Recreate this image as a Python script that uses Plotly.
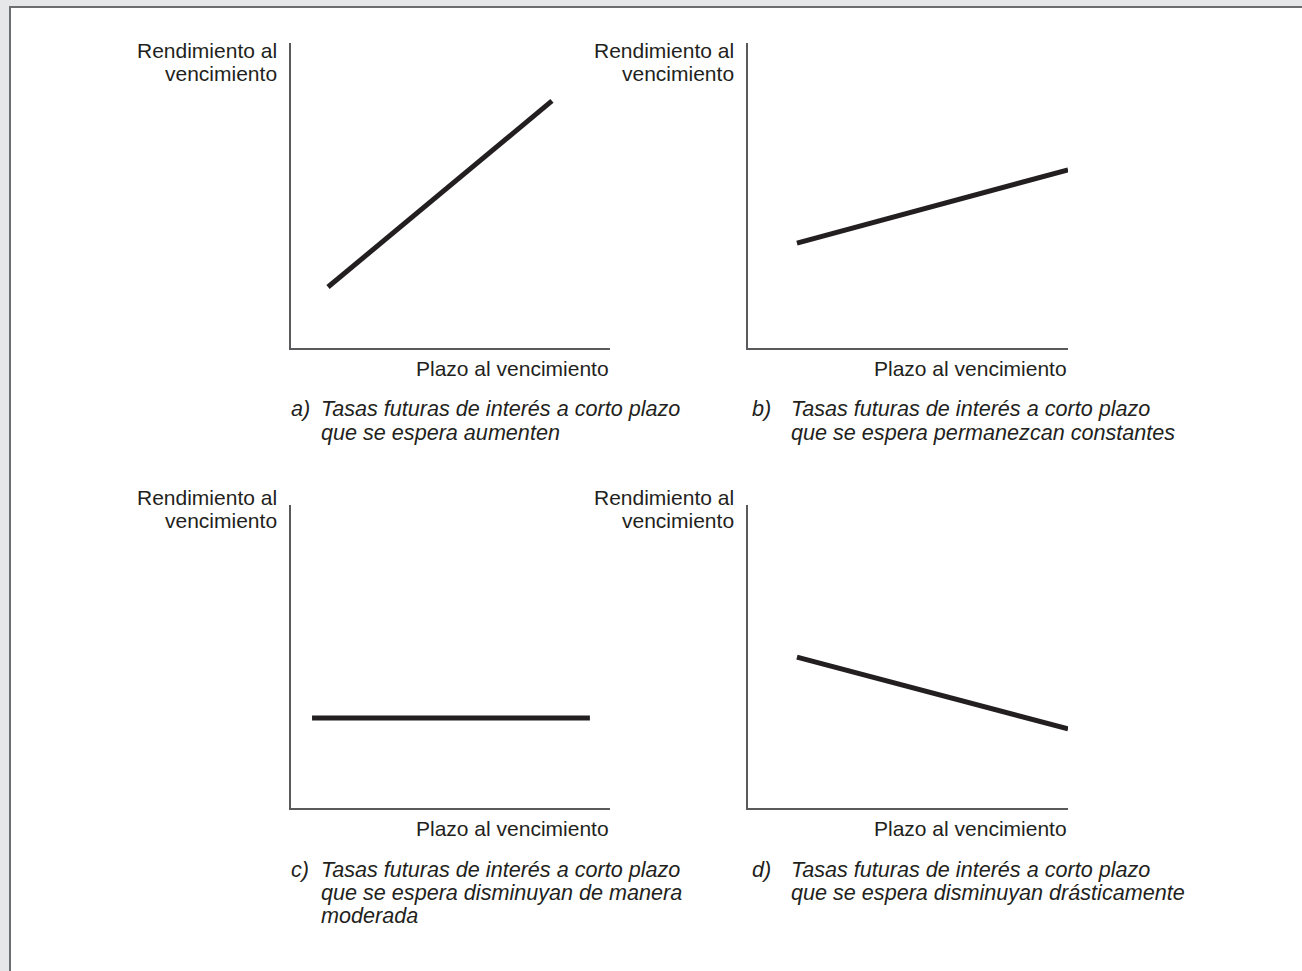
import plotly.graph_objects as go

W, H = 1302, 971

# data (arbitrary units, axes run 0..10)
plazo_a = [1.16, 8.18]
rend_a = [2.0, 8.1]
plazo_b = [1.53, 10.0]
rend_b = [3.44, 5.84]
plazo_c = [0.66, 9.37]
rend_c = [2.97, 2.97]
plazo_d = [1.53, 10.0]
rend_d = [4.98, 2.61]

y_label = ["Rendimiento al", "vencimiento"]
x_label = "Plazo al vencimiento"
letters = ["a)", "b)", "c)", "d)"]
captions = [
    ["Tasas futuras de interés a corto plazo", "que se espera aumenten"],
    ["Tasas futuras de interés a corto plazo", "que se espera permanezcan constantes"],
    ["Tasas futuras de interés a corto plazo", "que se espera disminuyan de manera", "moderada"],
    ["Tasas futuras de interés a corto plazo", "que se espera disminuyan drásticamente"],
]

FONT = "Liberation Sans, Arial, sans-serif"
INK = "#231f20"


def px(x):
    return x / W


def py(y):
    return 1 - y / H


# panel boxes in pixels: left, right, bottom, top
boxes = [
    (291, 610, 348, 43),
    (748, 1068, 348, 43),
    (291, 610, 808, 505),
    (748, 1068, 808, 505),
]
series = [(plazo_a, rend_a), (plazo_b, rend_b), (plazo_c, rend_c), (plazo_d, rend_d)]

fig = go.Figure()
layout = {}
annotations = []
for i, ((l, r, b, t), (xs, ys)) in enumerate(zip(boxes, series)):
    n = "" if i == 0 else str(i + 1)
    fig.add_trace(go.Scatter(x=xs, y=ys, mode="lines", xaxis="x" + n, yaxis="y" + n,
                             line=dict(color=INK, width=5), showlegend=False, hoverinfo="skip"))
    axcommon = dict(range=[0, 10], showline=True, linecolor="#5a5a5c", linewidth=2,
                    showticklabels=False, ticks="", showgrid=False, zeroline=False, fixedrange=True)
    layout["xaxis" + n] = dict(domain=[px(l), px(r)], anchor="y" + n, **axcommon)
    layout["yaxis" + n] = dict(domain=[py(b), py(t)], anchor="x" + n, **axcommon)

    top = 51 if i < 2 else 497
    for k, line in enumerate(y_label):
        annotations.append(dict(text=line, x=px(l - 12), y=py(top + 23 * k), xref="paper", yref="paper",
                                xanchor="right", yanchor="middle", showarrow=False,
                                font=dict(family=FONT, size=21, color=INK)))
    annotations.append(dict(text=x_label, x=px(r + 1), y=py(b + 20), xref="paper", yref="paper",
                            xanchor="right", yanchor="middle", showarrow=False,
                            font=dict(family=FONT, size=21, color=INK)))
    cap_top = b + 61
    lx = l - 2 if i % 2 == 0 else l + 2
    tx = l + 28 if i % 2 == 0 else l + 41
    annotations.append(dict(text="<i>" + letters[i] + "</i>", x=px(lx), y=py(cap_top), xref="paper",
                            yref="paper", xanchor="left", yanchor="middle", showarrow=False,
                            font=dict(family=FONT, size=21.6, color=INK)))
    for k, line in enumerate(captions[i]):
        annotations.append(dict(text="<i>" + line + "</i>", x=px(tx), y=py(cap_top + 23 * k),
                                xref="paper", yref="paper", xanchor="left", yanchor="middle",
                                showarrow=False, font=dict(family=FONT, size=21.6, color=INK)))

shapes = [dict(type="rect", xref="paper", yref="paper", x0=px(10), x1=px(W + 20), y0=py(H + 20), y1=py(7),
               line=dict(color="#6d6e70", width=2), fillcolor="white", layer="below")]

fig.update_layout(
    width=W, height=H, margin=dict(l=0, r=0, t=0, b=0),
    paper_bgcolor="#e6e7e8", plot_bgcolor="rgba(0,0,0,0)",
    annotations=annotations, shapes=shapes, **layout,
)

fig.write_html("out.html", config={"displayModeBar": False},
               post_script="document.body.style.margin='0';document.body.style.overflow='hidden';")
